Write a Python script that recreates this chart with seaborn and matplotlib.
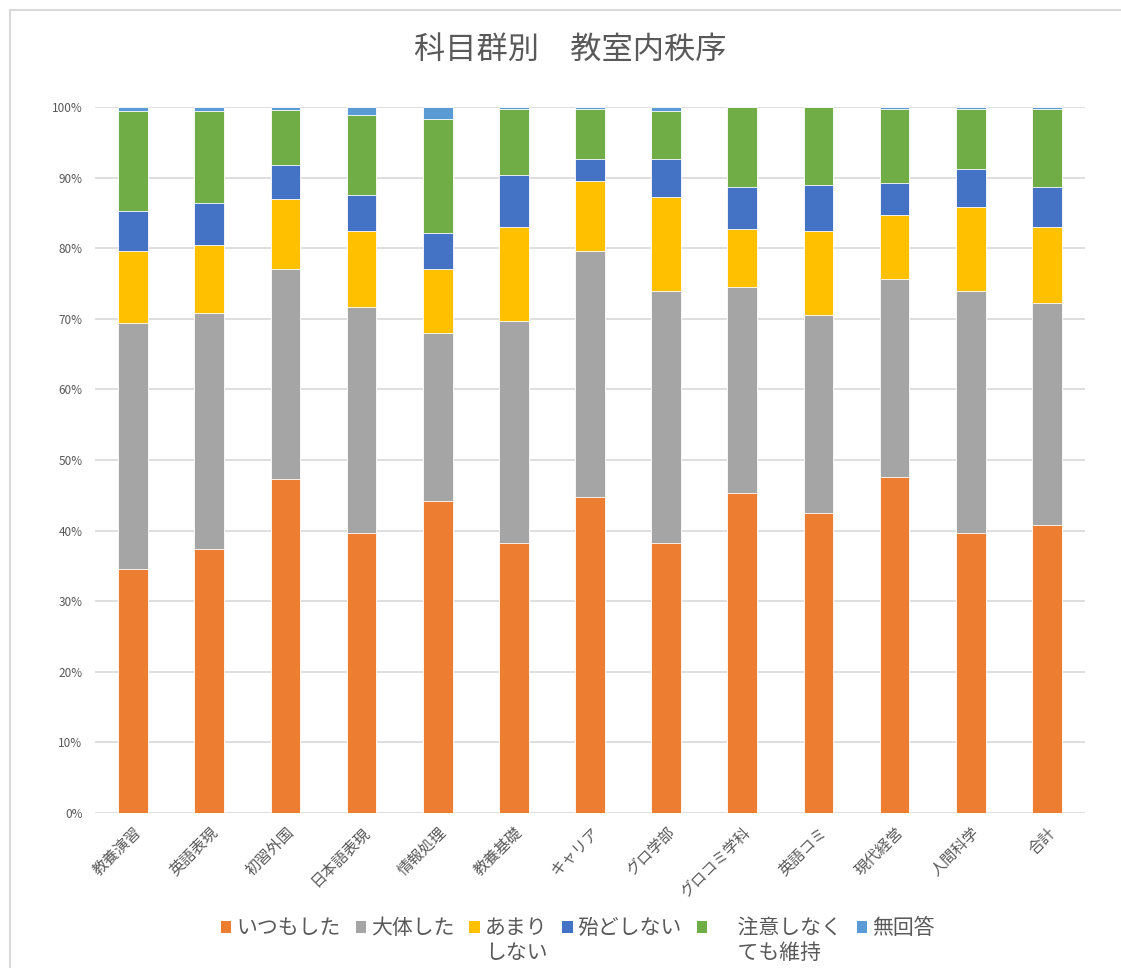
import numpy as np
import pandas as pd
import matplotlib
matplotlib.use("Agg")
import matplotlib.pyplot as plt
import seaborn as sns
from matplotlib.lines import Line2D
from matplotlib.patches import Patch

# データ（%）
categories = ["教養演習", "英語表現", "初習外国", "日本語表現", "情報処理", "教養基礎",
              "キャリア", "グロ学部", "グロコミ学科", "英語コミ", "現代経営", "人間科学", "合計"]
itsumo = [34.6, 37.4, 47.3, 39.7, 44.2, 38.2, 44.8, 38.2, 45.3, 42.5, 47.6, 39.7, 40.8]
daitai = [34.8, 33.4, 29.8, 32.0, 23.8, 31.5, 34.8, 35.7, 29.2, 28.0, 28.0, 34.2, 31.4]
amari = [10.2, 9.7, 9.9, 10.7, 9.1, 13.3, 9.9, 13.4, 8.2, 11.9, 9.1, 11.9, 10.8]
hotondo = [5.7, 5.9, 4.8, 5.1, 5.1, 7.4, 3.1, 5.3, 6.0, 6.6, 4.5, 5.4, 5.7]
chui = [14.1, 13.0, 7.8, 11.4, 16.1, 9.3, 7.1, 6.8, 11.3, 11.0, 10.5, 8.5, 11.0]
mukaitou = [0.6, 0.6, 0.4, 1.1, 1.7, 0.3, 0.3, 0.6, 0.0, 0.0, 0.3, 0.3, 0.3]

# 凡例ラベル（1行目と2行目）
series_names = ["いつもした", "大体した", "あまり", "殆どしない", "　 注意しなく", "無回答"]
series_line2 = ["", "", "しない", "", "　 ても維持", ""]
series_vals = [itsumo, daitai, amari, hotondo, chui, mukaitou]
colors = ["#ED7D31", "#A5A5A5", "#FFC000", "#4472C4", "#70AD47", "#5B9BD5"]

df = pd.DataFrame({"科目": categories})
cum = np.zeros(len(categories))
cum_cols = []
for i, vals in enumerate(series_vals):
    cum = cum + np.array(vals)
    col = f"s{i}"
    df[col] = cum.copy()
    cum_cols.append(col)

sns.set_style("white")
plt.rcParams["font.family"] = ["Noto Sans CJK JP", "DejaVu Sans"]

fig = plt.figure(figsize=(11.21, 9.68), dpi=100)
ax = fig.add_axes([95 / 1121, 155 / 968, 990 / 1121, 706 / 968])

# 累積値を上から順に重ねて描く（積み上げ棒）
for col, color in reversed(list(zip(cum_cols, colors))):
    sns.barplot(data=df, x="科目", y=col, color=color, width=0.39,
                edgecolor="white", linewidth=0.6, saturation=1, ax=ax, zorder=3)

ax.set_ylim(0, 100)
ax.set_xlim(-0.5, len(categories) - 0.5)
ax.set_yticks(np.arange(0, 101, 10))
ax.set_yticklabels([f"{v}%" for v in range(0, 101, 10)])
ax.yaxis.grid(True, color="#d9d9d9", linewidth=1.2, zorder=0)
ax.set_axisbelow(True)
ax.set_xlabel("")
ax.set_ylabel("")
for s in ax.spines.values():
    s.set_visible(False)
ax.tick_params(axis="y", length=0, pad=9, labelsize=8.5, labelcolor="#595959")
ax.tick_params(axis="x", length=0, pad=8, labelsize=11, labelcolor="#595959")
plt.setp(ax.get_xticklabels(), rotation=45, ha="right", va="top", rotation_mode="anchor")

fig.text(570 / 1121, 1 - 50 / 968, "科目群別　教室内秩序", ha="center", va="center",
         fontsize=22.5, color="#595959")

handles = [Patch(facecolor=c, edgecolor="none") for c in colors]
leg = fig.legend(handles, series_names, loc="center", bbox_to_anchor=(578 / 1121, 1 - 928 / 968),
                 ncol=6, frameon=False, fontsize=15, handlelength=0.5, handleheight=0.5,
                 handletextpad=0.25, columnspacing=0.7, labelcolor="#595959")

# 2行目のラベルを1行目の下に置く
fig.canvas.draw()
for t, extra in zip(leg.get_texts(), series_line2):
    if extra:
        bb = t.get_window_extent()
        fig.text(bb.x0 / fig.bbox.width, (bb.y0 - 3) / fig.bbox.height, extra,
                 ha="left", va="top", fontsize=15, color="#595959")

# 外枠
fig.add_artist(Line2D([10 / 1121, 10 / 1121], [0, 1 - 10 / 968], color="#d9d9d9", linewidth=1.5))
fig.add_artist(Line2D([10 / 1121, 1], [1 - 10 / 968, 1 - 10 / 968], color="#d9d9d9", linewidth=1.5))

fig.savefig("out.png", dpi=100, facecolor="white")
